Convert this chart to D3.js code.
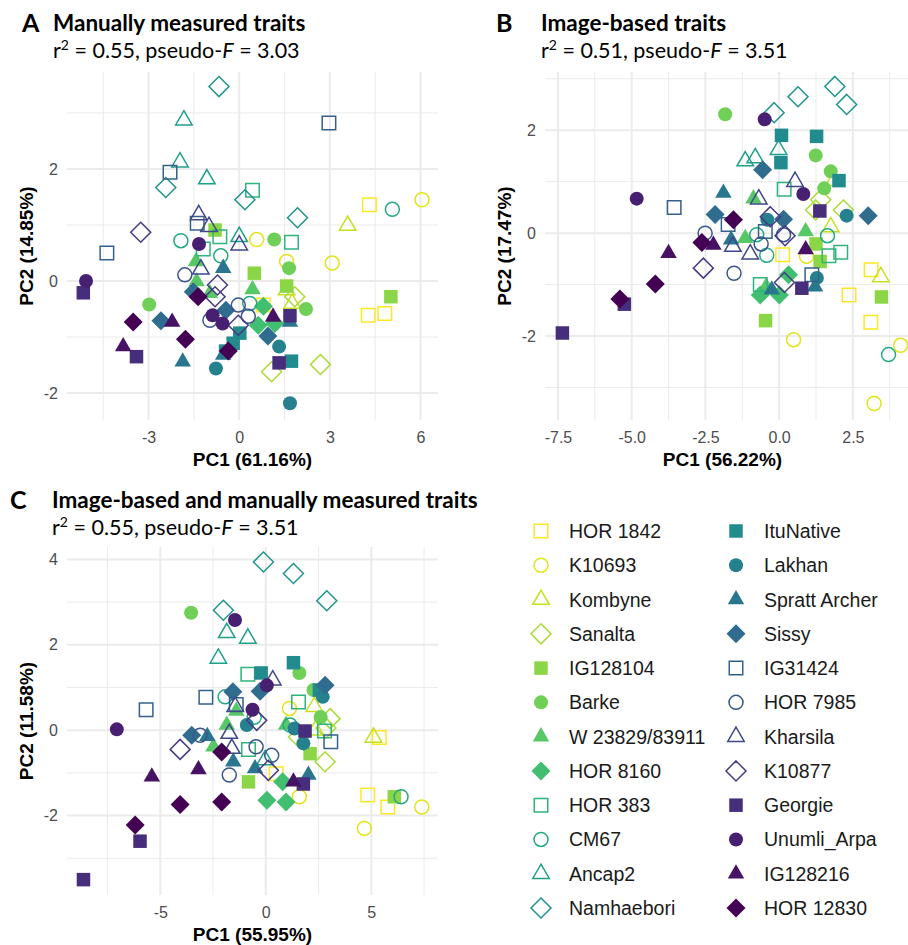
<!DOCTYPE html>
<html>
<head>
<meta charset="utf-8">
<script src="https://cdn.jsdelivr.net/npm/d3@7"></script>
<style>
	body { margin: 0; background: #fff; }
	text { font-family: "Liberation Sans", Arial, sans-serif; }
	.head { font-family: Lato, "Open Sans", sans-serif; }
</style>
</head>
<body>
<svg id="chart" width="908" height="945"></svg>
<script>
// Genotypes in legend order (colour = reversed viridis, shape cycles every 8)
const genotypes = [
	"HOR 1842", "K10693", "Kombyne", "Sanalta", "IG128104", "Barke",
	"W 23829/83911", "HOR 8160", "HOR 383", "CM67", "Ancap2", "Namhaebori",
	"ItuNative", "Lakhan", "Spratt Archer", "Sissy", "IG31424", "HOR 7985",
	"Kharsila", "K10877", "Georgie", "Unumli_Arpa", "IG128216", "HOR 12830",
];

// Panel A: manually measured traits [genotype, PC1, PC2]
const manualPoints = [
	["HOR 1842", 4.31, 1.36], ["HOR 1842", 4.27, -0.61], ["HOR 1842", 4.82, -0.58], ["HOR 1842", 0.8, -0.43],
	["K10693", 6.05, 1.45], ["K10693", 0.58, 0.74], ["K10693", 1.57, 0.35], ["K10693", 3.08, 0.32],
	["Kombyne", 3.59, 0.99], ["Kombyne", 1.57, -0.16], ["Kombyne", 1.75, -0.4],
	["Sanalta", 1.84, -0.28], ["Sanalta", 1.07, -1.62], ["Sanalta", 2.69, -1.49],
	["IG128104", -0.8, 0.91], ["IG128104", 0.5, 0.14], ["IG128104", 1.57, -0.09], ["IG128104", 5.02, -0.28],
	["Barke", 1.16, 0.74], ["Barke", 1.65, 0.23], ["Barke", -2.98, -0.42], ["Barke", 2.21, -0.5],
	["W 23829/83911", -1.43, 0.35], ["W 23829/83911", -1.41, -0.01], ["W 23829/83911", 0.44, -0.15], ["W 23829/83911", -0.97, -0.22],
	["HOR 8160", 0.8, -0.45], ["HOR 8160", 0.63, -0.79], ["HOR 8160", 1.18, -0.76],
	["HOR 383", 0.44, 1.62], ["HOR 383", -0.64, 0.79], ["HOR 383", 1.73, 0.69], ["HOR 383", -1.19, 0.57],
	["CM67", 5.07, 1.28], ["CM67", -1.93, 0.72], ["CM67", -0.61, 0.45], ["CM67", 0.35, -0.4],
	["Ancap2", -1.83, 2.87], ["Ancap2", -1.96, 2.12], ["Ancap2", -1.07, 1.82], ["Ancap2", 0, 0.79],
	["Namhaebori", -0.67, 3.47], ["Namhaebori", -2.43, 1.67], ["Namhaebori", 0.19, 1.45], ["Namhaebori", 1.93, 1.13],
	["ItuNative", 0.02, -0.93], ["ItuNative", -0.2, -1.11], ["ItuNative", 1.73, -1.43], ["ItuNative", -0.45, -1.25],
	["Lakhan", 1.32, -1.17], ["Lakhan", -0.77, -1.56], ["Lakhan", 1.68, -2.18],
	["Spratt Archer", -0.53, 0.23], ["Spratt Archer", 1.68, -0.73], ["Spratt Archer", -0.53, -1.32], ["Spratt Archer", -1.87, -1.44],
	["Sissy", -1.52, -0.19], ["Sissy", -0.44, -0.52], ["Sissy", 0.95, -0.98], ["Sissy", -2.59, -0.71],
	["IG31424", 2.97, 2.82], ["IG31424", -2.29, 1.94], ["IG31424", -4.38, 0.5], ["IG31424", -1.39, 1.03],
	["HOR 7985", -1.8, 0.11], ["HOR 7985", -0.03, -0.43], ["HOR 7985", 0.3, -0.63], ["HOR 7985", -0.97, -0.7],
	["Kharsila", -1.34, 1.18], ["Kharsila", -1.0, 0.97], ["Kharsila", 0, 0.64], ["Kharsila", -1.27, 0.21],
	["K10877", -3.26, 0.87], ["K10877", -0.72, -0.07], ["K10877", -0.8, -0.28], ["K10877", -0.03, -0.79],
	["Georgie", -5.16, -0.21], ["Georgie", -3.4, -1.35], ["Georgie", 1.68, -0.62], ["Georgie", 1.32, -1.46],
	["Unumli_Arpa", -5.07, 0], ["Unumli_Arpa", -1.33, 0.66], ["Unumli_Arpa", -0.88, -0.61], ["Unumli_Arpa", -0.55, -0.76],
	["IG128216", -2.22, -0.73], ["IG128216", -3.84, -1.17], ["IG128216", 1.12, -0.64],
	["HOR 12830", -1.36, -0.28], ["HOR 12830", -3.51, -0.73], ["HOR 12830", -1.78, -1.04], ["HOR 12830", -0.36, -1.25],
];

// Panel B: image-based traits
const imagePoints = [
	["HOR 1842", 0.12, -0.42], ["HOR 1842", 3.12, -0.71], ["HOR 1842", 2.37, -1.2], ["HOR 1842", 3.11, -1.73],
	["K10693", 0.93, -0.45], ["K10693", 0.49, -2.07], ["K10693", 4.12, -2.18], ["K10693", 3.22, -3.31],
	["Kombyne", 1.86, 1.02], ["Kombyne", 1.75, 0.12], ["Kombyne", 3.45, -0.85],
	["Sanalta", 1.41, 0.65], ["Sanalta", 1.24, 0.45], ["Sanalta", 2.18, 0.45],
	["IG128104", 1.25, -0.21], ["IG128104", 1.39, -0.55], ["IG128104", -0.46, -1.7], ["IG128104", 3.47, -1.24],
	["Barke", -1.83, 2.31], ["Barke", 1.24, 1.51], ["Barke", 1.75, 1.2], ["Barke", 1.53, 0.87],
	["W 23829/83911", -0.87, 0.67], ["W 23829/83911", 0.9, 0.03], ["W 23829/83911", -1.15, -0.1], ["W 23829/83911", -0.44, -1.04],
	["HOR 8160", 0.32, -0.81], ["HOR 8160", -0.64, -1.2], ["HOR 8160", 0.01, -1.2],
	["HOR 383", 0.17, 0.85], ["HOR 383", 1.69, -0.44], ["HOR 383", 2.09, -0.37], ["HOR 383", -0.64, -1.0],
	["CM67", -0.76, -0.03], ["CM67", 1.64, -0.05], ["CM67", -0.42, -0.43], ["CM67", 3.71, -2.36],
	["Ancap2", -1.15, 1.4], ["Ancap2", -0.81, 1.46], ["Ancap2", -0.02, 1.62],
	["Namhaebori", -0.17, 2.34], ["Namhaebori", 0.64, 2.65], ["Namhaebori", 1.89, 2.85], ["Namhaebori", 2.29, 2.5],
	["ItuNative", 0.08, 1.9], ["ItuNative", 1.27, 1.88], ["ItuNative", 0.06, 1.37], ["ItuNative", 2.03, 1.02],
	["Lakhan", 2.29, 0.34], ["Lakhan", -0.4, 0.26], ["Lakhan", 1.28, -0.87],
	["Spratt Archer", -1.89, 0.78], ["Spratt Archer", -1.63, -0.13], ["Spratt Archer", 1.22, -1.04], ["Spratt Archer", -0.25, -1.1],
	["Sissy", -0.56, 1.23], ["Sissy", 3.02, 0.34], ["Sissy", -2.17, 0.36], ["Sissy", 0.15, 0.27],
	["IG31424", -3.56, 0.5], ["IG31424", -1.73, 0.17], ["IG31424", -0.47, 0.03], ["IG31424", 1.11, -0.81],
	["HOR 7985", -2.51, 0.0], ["HOR 7985", 0.15, -0.03], ["HOR 7985", -0.61, -0.21], ["HOR 7985", -1.53, -0.78],
	["Kharsila", 0.54, 1.0], ["Kharsila", -0.69, 0.66], ["Kharsila", -1.57, -0.26], ["Kharsila", -0.98, -0.41],
	["K10877", -0.3, 0.32], ["K10877", 0.2, -0.05], ["K10877", -2.57, -0.68], ["K10877", 0.18, -0.96],
	["Georgie", 1.38, 0.43], ["Georgie", 0.77, -1.07], ["Georgie", -5.25, -1.38], ["Georgie", -7.35, -1.94],
	["Unumli_Arpa", -0.49, 2.21], ["Unumli_Arpa", 0.82, 0.76], ["Unumli_Arpa", -4.83, 0.67],
	["IG128216", -3.75, -0.39], ["IG128216", -2.23, -0.23], ["IG128216", 0.9, -0.32],
	["HOR 12830", -1.55, 0.26], ["HOR 12830", -2.62, -0.18], ["HOR 12830", -4.2, -0.99], ["HOR 12830", -5.4, -1.28],
];

// Panel C: image-based and manually measured traits
const combinedPoints = [
	["HOR 1842", 0.49, -1.02], ["HOR 1842", 5.38, -0.17], ["HOR 1842", 4.83, -1.52], ["HOR 1842", 5.78, -1.8],
	["K10693", 1.12, 0.51], ["K10693", 1.59, -1.56], ["K10693", 7.39, -1.8], ["K10693", 4.67, -2.3],
	["Kombyne", 2.3, 0.55], ["Kombyne", 2.35, 0.0], ["Kombyne", 5.1, -0.17],
	["Sanalta", 1.55, -0.16], ["Sanalta", 3.05, 0.27], ["Sanalta", 2.81, -0.74], ["Sanalta", 2.85, 0.05],
	["IG128104", -0.82, -1.21], ["IG128104", 2.1, -0.55], ["IG128104", 6.09, -1.56],
	["Barke", -3.54, 2.75], ["Barke", 1.59, 1.34], ["Barke", 2.26, 0.94], ["Barke", 2.6, 0.31],
	["W 23829/83911", -1.4, 0.45], ["W 23829/83911", -1.85, 0.12], ["W 23829/83911", 0.96, 0.12], ["W 23829/83911", -2.48, -0.39],
	["HOR 8160", 0.05, -1.64], ["HOR 8160", 0.96, -1.68], ["HOR 8160", 0.8, -1.21],
	["HOR 383", -0.85, 1.31], ["HOR 383", 1.55, 0.66], ["HOR 383", 2.78, -0.02], ["HOR 383", -0.82, -0.45],
	["CM67", -1.93, 0.78], ["CM67", 6.41, -1.56], ["CM67", -0.55, 0.3], ["CM67", 1.15, 0.12],
	["Ancap2", -1.85, 2.28], ["Ancap2", -0.85, 2.15], ["Ancap2", -2.25, 1.68], ["Ancap2", -0.03, -0.7],
	["Namhaebori", -0.11, 3.94], ["Namhaebori", 1.31, 3.67], ["Namhaebori", 2.89, 3.03], ["Namhaebori", -2.01, 2.81],
	["ItuNative", -0.22, 1.34], ["ItuNative", 1.31, 1.58], ["ItuNative", 2.54, 0.94],
	["Lakhan", 2.7, 0.78], ["Lakhan", -0.9, 0.12], ["Lakhan", 1.36, 0.04], ["Lakhan", 1.78, -0.31],
	["Spratt Archer", -2.77, -0.14], ["Spratt Archer", -1.54, -0.74], ["Spratt Archer", -0.51, -0.9], ["Spratt Archer", 2.02, -1.05],
	["Sissy", -0.27, 0.91], ["Sissy", -1.56, 0.9], ["Sissy", 2.81, 1.05], ["Sissy", -3.51, -0.12],
	["IG31424", -5.67, 0.48], ["IG31424", -2.84, 0.77], ["IG31424", 3.08, -0.27], ["IG31424", -1.4, 0.6],
	["HOR 7985", -3.11, -0.12], ["HOR 7985", -0.46, -0.39], ["HOR 7985", 0.28, -0.59], ["HOR 7985", -1.73, -1.05],
	["Kharsila", 0.33, 1.17], ["Kharsila", -1.73, -0.08], ["Kharsila", -1.61, -0.43], ["Kharsila", -1.45, 0.55],
	["K10877", -0.43, 0.23], ["K10877", -4.06, -0.45], ["K10877", 0.12, -0.94],
	["Georgie", 1.86, -0.02], ["Georgie", 1.78, -1.26], ["Georgie", -5.96, -2.6], ["Georgie", -8.64, -3.5],
	["Unumli_Arpa", -1.46, 2.58], ["Unumli_Arpa", 0.05, 1.05], ["Unumli_Arpa", -0.63, 0.48], ["Unumli_Arpa", -7.06, 0.02],
	["IG128216", -5.4, -1.09], ["IG128216", -3.19, -0.92], ["IG128216", 1.31, -1.21],
	["HOR 12830", -2.09, -0.51], ["HOR 12830", -4.06, -1.74], ["HOR 12830", -2.09, -1.68], ["HOR 12830", -6.19, -2.22],
];

// Titles, stats and axis labels
const panelLetters = ["A", "B", "C"];
const panelTitles = ["Manually measured traits", "Image-based traits", "Image-based and manually measured traits"];
const panelR2 = ["0.55", "0.51", "0.55"];
const panelF = ["3.03", "3.51", "3.51"];
const pc1Labels = ["PC1 (61.16%)", "PC1 (56.22%)", "PC1 (55.95%)"];
const pc2Labels = ["PC2 (14.85%)", "PC2 (17.47%)", "PC2 (11.58%)"];
const xTicksA = [-3, 0, 3, 6];
const yTicksA = [-2, 0, 2];
const xTicksB = [-7.5, -5, -2.5, 0, 2.5];
const yTicksB = [-2, 0, 2];
const xTicksC = [-5, 0, 5];
const yTicksC = [-2, 0, 2, 4];

// ggplot prints a plain hyphen for negatives, d3 uses a unicode minus
const hyphen = (f) => (d) => f(d).replace("\u2212", "-");

// Layout of each panel (pixel box + visible data range)
const panels = [
	{ points: manualPoints, left: 67, right: 438, top: 72, bottom: 420, xDom: [-5.7, 6.58], yDom: [-2.48, 3.73],
		xTicks: xTicksA, yTicks: yTicksA, xFmt: hyphen(d3.format("d")), letterX: 22, titleX: 53, titleY: 31 },
	{ points: imagePoints, left: 545, right: 908, top: 72, bottom: 420, xDom: [-7.94, 4.37], yDom: [-3.63, 3.13],
		xTicks: xTicksB, yTicks: yTicksB, xFmt: hyphen(d3.format(".1f")), letterX: 496, titleX: 541, titleY: 31 },
	{ points: combinedPoints, left: 67, right: 438, top: 547, bottom: 895, xDom: [-9.42, 8.16], yDom: [-3.86, 4.29],
		xTicks: xTicksC, yTicks: yTicksC, xFmt: hyphen(d3.format("d")), letterX: 10, titleX: 52, titleY: 508 },
];

const svg = d3.select("#chart");
const color = (g) => d3.interpolateViridis(1 - genotypes.indexOf(g) / (genotypes.length - 1));
const shapeOf = (g) => genotypes.indexOf(g) % 8; // 0 sq,1 circ,2 tri,3 diam open; 4-7 filled

// Path for each shape, centred on 0,0
function shapePath(k) {
	const base = k % 4;
	if (base === 0) { const s = 13.5; return `M${-s / 2},${-s / 2}h${s}v${s}h${-s}Z`; }
	if (base === 1) { const r = 7; return `M${r},0A${r},${r} 0 1,1 ${-r},0A${r},${r} 0 1,1 ${r},0Z`; }
	if (base === 2) { const t = 16.5, h = t * Math.sqrt(3) / 2; return `M0,${-2 * h / 3}L${t / 2},${h / 3}L${-t / 2},${h / 3}Z`; }
	const d = k < 4 ? 10 : 9.5;
	return `M0,${-d}L${d},0L0,${d}L${-d},0Z`;
}

function drawSymbol(sel, g) {
	const k = shapeOf(g);
	const c = color(g);
	sel.attr("d", shapePath(k))
		.attr("fill", k < 4 ? "none" : c)
		.attr("stroke", k < 4 ? c : "none")
		.attr("stroke-width", 1.5);
}

// Minor grid positions = midpoints between majors, plus half a step beyond
function minors(ticks, dom) {
	const step = ticks[1] - ticks[0];
	const out = [ticks[0] - step / 2];
	ticks.forEach((t) => out.push(t + step / 2));
	return out.filter((v) => v > dom[0] && v < dom[1]);
}

panels.forEach((p, i) => {
	const x = d3.scaleLinear().domain(p.xDom).range([p.left, p.right]);
	const y = d3.scaleLinear().domain(p.yDom).range([p.bottom, p.top]);
	const g = svg.append("g");

	// Grid
	const grid = g.append("g").attr("stroke", "#ebebeb");
	grid.selectAll(".vmin").data(minors(p.xTicks, p.xDom)).join("line")
		.attr("x1", (d) => x(d)).attr("x2", (d) => x(d)).attr("y1", p.top).attr("y2", p.bottom).attr("stroke-width", 1);
	grid.selectAll(".hmin").data(minors(p.yTicks, p.yDom)).join("line")
		.attr("y1", (d) => y(d)).attr("y2", (d) => y(d)).attr("x1", p.left).attr("x2", p.right).attr("stroke-width", 1);
	grid.selectAll(".vmaj").data(p.xTicks).join("line")
		.attr("x1", (d) => x(d)).attr("x2", (d) => x(d)).attr("y1", p.top).attr("y2", p.bottom).attr("stroke-width", 2);
	grid.selectAll(".hmaj").data(p.yTicks).join("line")
		.attr("y1", (d) => y(d)).attr("y2", (d) => y(d)).attr("x1", p.left).attr("x2", p.right).attr("stroke-width", 2);

	// Tick labels via d3 axes, no lines
	const xAxis = g.append("g").attr("transform", `translate(0,${p.bottom})`)
		.call(d3.axisBottom(x).tickValues(p.xTicks).tickFormat(p.xFmt).tickSize(0).tickPadding(8));
	const yAxis = g.append("g").attr("transform", `translate(${p.left},0)`)
		.call(d3.axisLeft(y).tickValues(p.yTicks).tickFormat(hyphen(d3.format("d"))).tickSize(0).tickPadding(9));
	[xAxis, yAxis].forEach((a) => {
		a.select(".domain").remove();
		a.selectAll("text").attr("fill", "#4d4d4d").style("font-size", "16px")
			.style("font-family", '"Liberation Sans", Arial, sans-serif');
	});
	xAxis.selectAll("text").attr("dy", "0.95em");

	// Axis titles
	g.append("text").attr("x", (p.left + p.right) / 2 - (i === 1 ? 4 : 0)).attr("y", p.bottom + 46)
		.attr("text-anchor", "middle").attr("font-weight", "bold").attr("font-size", 19).text(pc1Labels[i]);
	g.append("text").attr("transform", `translate(${p.left - 34},${(p.top + p.bottom) / 2}) rotate(-90)`)
		.attr("text-anchor", "middle").attr("font-weight", "bold").attr("font-size", 19).text(pc2Labels[i]);

	// Points
	g.append("g").selectAll("path").data(p.points).join("path")
		.attr("transform", (d) => `translate(${x(d[1])},${y(d[2])})`)
		.each(function (d) { drawSymbol(d3.select(this), d[0]); });

	// Titles
	g.append("text").attr("class", "head").attr("x", p.letterX).attr("y", p.titleY + 1)
		.attr("font-weight", "bold").attr("font-size", 25).text(panelLetters[i]);
	g.append("text").attr("class", "head").attr("x", p.titleX).attr("y", p.titleY)
		.attr("font-weight", "bold").attr("font-size", 22.5).text(panelTitles[i]);
	const sub = g.append("text").attr("class", "head").attr("x", p.titleX).attr("y", p.titleY + 27)
		.attr("font-size", 21.5);
	sub.append("tspan").text("r");
	sub.append("tspan").attr("dy", -8).attr("font-size", 14).text("2");
	sub.append("tspan").attr("dy", 8).text(` = ${panelR2[i]}, pseudo-`);
	sub.append("tspan").attr("font-style", "italic").text("F");
	sub.append("tspan").text(` = ${panelF[i]}`);
});

// Legend: two columns of 12
const legend = svg.append("g");
const legendRow = d3.scaleLinear().domain([0, 11]).range([531, 908]);
genotypes.forEach((gName, i) => {
	const col = Math.floor(i / 12), row = i % 12;
	const sx = col === 0 ? 541 : 736;
	legend.append("path").attr("transform", `translate(${sx},${legendRow(row)})`)
		.call((s) => drawSymbol(s, gName));
	legend.append("text").attr("x", sx + 28).attr("y", legendRow(row)).attr("dy", "0.36em")
		.attr("font-size", 19.5).attr("fill", "#1a1a1a").text(gName);
});
</script>
</body>
</html>
